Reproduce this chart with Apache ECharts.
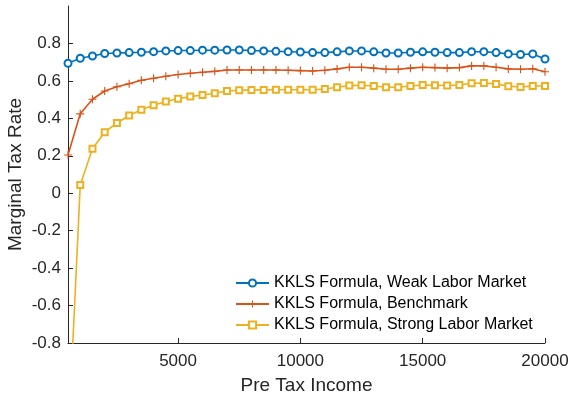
<!DOCTYPE html>
<html>
<head>
<meta charset="utf-8">
<script src="https://cdn.jsdelivr.net/npm/echarts@6/dist/echarts.min.js"></script>
<style>html,body{margin:0;padding:0;background:#fff;}#c{width:570px;height:400px;}</style>
</head>
<body>
<div id="c"></div>
<script>
const incomes = [500,1000,1500,2000,2500,3000,3500,4000,4500,5000,5500,6000,6500,7000,7500,8000,8500,9000,9500,10000,
  10500,11000,11500,12000,12500,13000,13500,14000,14500,15000,15500,16000,16500,17000,17500,18000,18500,19000,19500,20000];
const weak = [0.694,0.721,0.733,0.746,0.749,0.751,0.753,0.756,0.760,0.762,0.762,0.764,0.764,0.765,0.765,0.762,0.760,0.758,0.756,0.754,
  0.751,0.751,0.755,0.760,0.760,0.755,0.749,0.749,0.753,0.755,0.753,0.751,0.751,0.756,0.756,0.751,0.744,0.741,0.744,0.717];
const benchmark = [0.204,0.424,0.502,0.546,0.569,0.585,0.603,0.614,0.625,0.634,0.641,0.646,0.651,0.658,0.658,0.658,0.658,0.658,0.657,0.655,
  0.653,0.657,0.664,0.673,0.673,0.668,0.662,0.662,0.668,0.673,0.671,0.668,0.671,0.680,0.680,0.673,0.664,0.662,0.665,0.649];
const strong = [-1.35,0.044,0.238,0.326,0.375,0.415,0.446,0.470,0.490,0.505,0.516,0.525,0.534,0.546,0.550,0.552,0.552,0.553,0.553,0.553,
  0.553,0.557,0.566,0.575,0.577,0.573,0.566,0.566,0.573,0.578,0.577,0.575,0.578,0.587,0.589,0.584,0.571,0.568,0.573,0.573];
const seriesNames = ['KKLS Formula, Weak Labor Market','KKLS Formula, Benchmark','KKLS Formula, Strong Labor Market'];
const xTicks = [5000,10000,15000,20000];
const yTicks = [-0.8,-0.6,-0.4,-0.2,0,0.2,0.4,0.6,0.8];

const axisColor = '#262626';
const font = 'Liberation Sans, Arial, Helvetica, sans-serif';
const plusPath = 'path://M-1,-0.14H1V0.14H-1Z M-0.14,-1H0.14V1H-0.14Z';

function pairs(vals){ return incomes.map((x,i)=>[x, vals[i]]); }

const chart = echarts.init(document.getElementById('c'), null, {renderer:'canvas'});
chart.setOption({
  animation: false,
  backgroundColor: '#fff',
  textStyle: {fontFamily: font},
  grid: {left: 68, right: 25, top: 6, bottom: 57, containLabel: false, outerBoundsMode: 'none'},
  legend: {
    orient: 'vertical', left: 230, top: 270, itemGap: 5, itemWidth: 33, itemHeight: 9,
    textStyle: {fontSize: 16, color: '#000', fontFamily: font},
    data: seriesNames
  },
  xAxis: {
    type: 'value', min: 500, max: 20000,
    name: 'Pre Tax Income', nameLocation: 'middle', nameGap: 33, nameMoveOverlap: false,
    nameTextStyle: {fontSize: 19, color: axisColor, fontFamily: font},
    axisLine: {show: true, onZero: false, lineStyle: {color: axisColor, width: 1}},
    axisTick: {show: true, inside: true, length: 5, lineStyle: {color: axisColor}, customValues: xTicks},
    axisLabel: {fontSize: 17, color: axisColor, margin: 10, customValues: xTicks, fontFamily: font,
      formatter: v => String(v)},
    splitLine: {show: false}
  },
  yAxis: {
    type: 'value', min: -0.8, max: 1.0,
    name: 'Marginal Tax Rate', nameLocation: 'middle', nameGap: 43, nameMoveOverlap: false,
    nameTextStyle: {fontSize: 19, color: axisColor, fontFamily: font},
    axisLine: {show: true, onZero: false, lineStyle: {color: axisColor, width: 1}},
    axisTick: {show: true, inside: true, length: 5, lineStyle: {color: axisColor}, customValues: yTicks},
    axisLabel: {fontSize: 17, color: axisColor, margin: 7, customValues: yTicks, fontFamily: font,
      formatter: v => String(Math.round(v * 10) / 10)},
    splitLine: {show: false}
  },
  series: [
    {name: seriesNames[0], type: 'line', data: pairs(weak), symbol: 'emptyCircle', symbolSize: 7,
     color: '#0072BD', lineStyle: {width: 1.6}, itemStyle: {borderWidth: 1.5}, clip: true},
    {name: seriesNames[1], type: 'line', data: pairs(benchmark), symbol: plusPath, symbolSize: 8,
     color: '#D95319', lineStyle: {width: 1.6}, itemStyle: {borderWidth: 0}, clip: true},
    {name: seriesNames[2], type: 'line', data: pairs(strong), symbol: 'emptyRect', symbolSize: 6,
     color: '#EDB120', lineStyle: {width: 1.6}, itemStyle: {borderWidth: 1.5}, clip: true}
  ]
});
</script>
</body>
</html>
